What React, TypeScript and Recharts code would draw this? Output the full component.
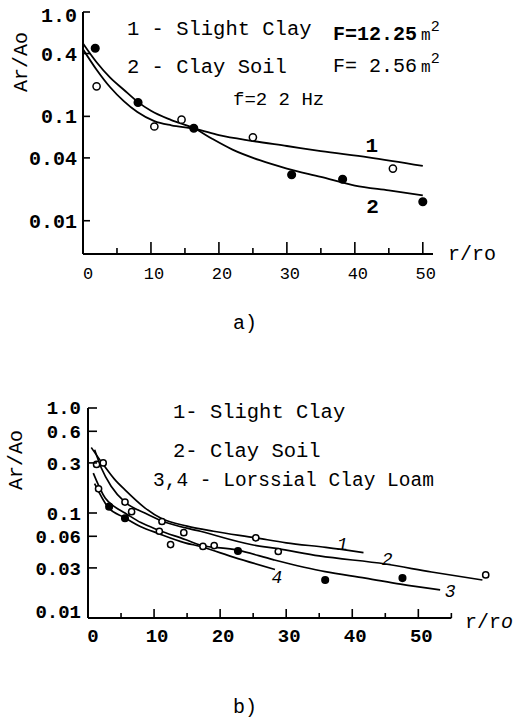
import { ComposedChart, Line, Scatter, XAxis, YAxis, ReferenceLine } from 'recharts'

const MONO = '"Liberation Mono", "DejaVu Sans Mono", monospace'

// ---------- panel a) ----------
const xTicksA = [0, 5, 10, 15, 20, 25, 30, 35, 40, 45, 50]
const yTicksA = [0.01, 0.04, 0.1, 0.4, 1]

// 1 - Slight Clay (fitted curve + open circles)
const slightClayA = [
    { x: 0, y: 0.44 }, { x: 2, y: 0.28 }, { x: 4, y: 0.19 }, { x: 6, y: 0.14 },
    { x: 8, y: 0.11 }, { x: 10.5, y: 0.09 }, { x: 13, y: 0.082 }, { x: 16.5, y: 0.076 },
    { x: 20, y: 0.066 }, { x: 25, y: 0.058 }, { x: 30, y: 0.052 }, { x: 35, y: 0.0465 },
    { x: 42, y: 0.0405 }, { x: 50, y: 0.0335 },
]
const slightClayPtsA = [
    { x: 2, y: 0.194 }, { x: 10.5, y: 0.08 }, { x: 14.5, y: 0.093 },
    { x: 25, y: 0.063 }, { x: 45.6, y: 0.0316 },
]

// 2 - Clay Soil (fitted curve + filled circles)
const claySoilA = [
    { x: 0, y: 0.5 }, { x: 2, y: 0.33 }, { x: 4, y: 0.235 }, { x: 6, y: 0.18 },
    { x: 8.1, y: 0.137 }, { x: 10, y: 0.113 }, { x: 13, y: 0.092 }, { x: 16.5, y: 0.076 },
    { x: 19, y: 0.061 }, { x: 22, y: 0.048 }, { x: 26, y: 0.038 }, { x: 30, y: 0.0316 },
    { x: 35, y: 0.0263 }, { x: 40, y: 0.0217 }, { x: 45, y: 0.0195 }, { x: 50, y: 0.0175 },
]
const claySoilPtsA = [
    { x: 1.8, y: 0.45 }, { x: 8.1, y: 0.136 }, { x: 16.3, y: 0.077 },
    { x: 30.7, y: 0.0276 }, { x: 38.2, y: 0.025 }, { x: 50, y: 0.0152 },
]

const curveLabelsA = [
    { x: 42.5, y: 0.051, text: '1' },
    { x: 42.6, y: 0.0133, text: '2' },
]

// ---------- panel b) ----------
const xTicksB = [0, 5, 10, 15, 20, 25, 30, 35, 40, 45, 50, 55]
const yTicksB = [0.01, 0.03, 0.06, 0.1, 0.3, 0.6, 1]

const curve1B = [
    { x: 0.5, y: 0.42 }, { x: 2.3, y: 0.29 }, { x: 4, y: 0.21 }, { x: 5.6, y: 0.166 },
    { x: 8.6, y: 0.112 }, { x: 11.2, y: 0.088 }, { x: 15, y: 0.075 }, { x: 19, y: 0.067 },
    { x: 25.4, y: 0.058 }, { x: 30, y: 0.052 }, { x: 36, y: 0.047 }, { x: 41.7, y: 0.042 },
]
const curve2B = [
    { x: 1, y: 0.4 }, { x: 2, y: 0.27 }, { x: 3.5, y: 0.18 }, { x: 5.6, y: 0.127 },
    { x: 8.6, y: 0.1 }, { x: 11.2, y: 0.084 }, { x: 17, y: 0.067 }, { x: 25, y: 0.0496 },
    { x: 28.5, y: 0.046 }, { x: 35, y: 0.039 }, { x: 45, y: 0.0327 }, { x: 52, y: 0.0274 },
    { x: 59.7, y: 0.023 },
]
const curve3B = [
    { x: 0.8, y: 0.24 }, { x: 2.6, y: 0.139 }, { x: 4, y: 0.115 }, { x: 5.6, y: 0.1 },
    { x: 8, y: 0.081 }, { x: 10.6, y: 0.069 }, { x: 14.7, y: 0.056 }, { x: 17, y: 0.0496 },
    { x: 22.5, y: 0.0445 }, { x: 28, y: 0.036 }, { x: 35.9, y: 0.0276 }, { x: 42, y: 0.024 },
    { x: 47.3, y: 0.021 }, { x: 53.3, y: 0.0185 },
]
const curve4B = [
    { x: 1, y: 0.19 }, { x: 3, y: 0.114 }, { x: 5.6, y: 0.09 }, { x: 8, y: 0.074 },
    { x: 10.6, y: 0.064 }, { x: 14.7, y: 0.052 }, { x: 17, y: 0.048 }, { x: 22, y: 0.038 },
    { x: 28.3, y: 0.029 },
]
const openPtsB = [
    { x: 1.3, y: 0.29 }, { x: 2.3, y: 0.3 }, { x: 1.6, y: 0.17 }, { x: 5.6, y: 0.127 },
    { x: 6.6, y: 0.103 }, { x: 11.2, y: 0.083 }, { x: 10.8, y: 0.067 }, { x: 14.5, y: 0.065 },
    { x: 12.5, y: 0.05 }, { x: 17.4, y: 0.048 }, { x: 19.1, y: 0.049 }, { x: 25.4, y: 0.058 },
    { x: 28.8, y: 0.043 }, { x: 60.2, y: 0.0257 },
]
const filledPtsB = [
    { x: 3.2, y: 0.115 }, { x: 5.6, y: 0.089 }, { x: 22.7, y: 0.0435 },
    { x: 35.9, y: 0.023 }, { x: 47.6, y: 0.024 },
]
const curveLabelsB = [
    { x: 38.5, y: 0.05, text: '1' },
    { x: 45.3, y: 0.0357, text: '2' },
    { x: 54.8, y: 0.0177, text: '3' },
    { x: 28.6, y: 0.024, text: '4' },
]

const fmtY = (v: number) => (v >= 0.1 ? v.toFixed(1) : v.toFixed(2))

const makeXTick = (major: number, minor: number, dy: number, fontSize: number, weight: string) =>
    (props: any) => {
        const { x, y, payload } = props
        const v = payload.value
        const isMajor = v % 10 === 0
        return (
            <g>
                {v !== 0 && (
                    <line x1={x} x2={x} y1={y} y2={y - (isMajor ? major : minor)} stroke="#000" strokeWidth={1.6} />
                )}
                {isMajor && (
                    <text x={x + (v === 0 ? 5 : 3)} y={y + dy} textAnchor="middle"
                        fontFamily={MONO} fontSize={fontSize} fontWeight={weight} fill="#000">
                        {v}
                    </text>
                )}
            </g>
        )
    }

// ticks point inward (right of the axis); labels sit left of it
const makeYTick = (len: number, gap: number, lowShift: number, topShift: number, fontSize: number) =>
    (props: any) => {
        const { x, y, payload } = props
        const v = payload.value
        const dy = v === 0.01 ? lowShift : v === 1 ? topShift : 0
        return (
            <g>
                <line x1={x} x2={x + len} y1={y} y2={y} stroke="#000" strokeWidth={1.6} />
                <text x={x - gap} y={y + 7 + dy} textAnchor="end" fontFamily={MONO}
                    fontSize={fontSize} fontWeight="bold" fill="#000">
                    {fmtY(v)}
                </text>
            </g>
        )
    }

const dot = (r: number, filled: boolean) => (p: any) => (
    <circle cx={p.cx} cy={p.cy} r={r} fill={filled ? '#000' : '#fff'} stroke="#000" strokeWidth={1.5} />
)

const numLabel = (size: number, italic: boolean, weight: string) => (p: any) => (
    <text x={p.cx} y={p.cy} textAnchor="middle" dominantBaseline="central" fontFamily={MONO}
        fontSize={size} fontStyle={italic ? 'italic' : 'normal'} fontWeight={weight} fill="#000">
        {p.payload.text}
    </text>
)

const axisStroke = { stroke: '#000', strokeWidth: 2 }

function PanelA() {
    return (
        <ComposedChart width={518} height={300} margin={{ top: 12, right: 85, bottom: 0, left: 0 }}>
            <XAxis dataKey="x" type="number" domain={[0, 51.5]} ticks={xTicksA} interval={0}
                allowDataOverflow axisLine={axisStroke} tickLine={false} tickSize={0} tickMargin={0}
                height={46} tick={makeXTick(12, 6, 25, 17, 'normal')} />
            <YAxis type="number" scale="log" domain={[0.0048, 1]} ticks={yTicksA} interval={0}
                allowDataOverflow axisLine={axisStroke} tickLine={false} tickSize={0} tickMargin={0}
                width={83} tick={makeYTick(7, 6, 0, 3, 20)} />
            <Line data={slightClayA} dataKey="y" type="monotone" stroke="#000" strokeWidth={1.8}
                dot={false} activeDot={false} isAnimationActive={false} />
            <Line data={claySoilA} dataKey="y" type="monotone" stroke="#000" strokeWidth={1.8}
                dot={false} activeDot={false} isAnimationActive={false} />
            <Scatter data={slightClayPtsA} dataKey="y" shape={dot(3.6, false)} isAnimationActive={false} />
            <Scatter data={claySoilPtsA} dataKey="y" shape={dot(3.8, true)} isAnimationActive={false} />
            <Scatter data={curveLabelsA} dataKey="y" shape={numLabel(21, false, 'bold')} isAnimationActive={false} />
        </ComposedChart>
    )
}

function PanelB() {
    return (
        <ComposedChart width={518} height={280} margin={{ top: 28, right: 27, bottom: 0, left: 0 }}>
            <XAxis dataKey="x" type="number" domain={[0, 61]} ticks={xTicksB} interval={0}
                allowDataOverflow axisLine={false} tickLine={false} tickSize={0} tickMargin={0}
                height={42} tick={makeXTick(9, 5, 24, 19, 'bold')} />
            <YAxis type="number" scale="log" domain={[0.01, 1]} ticks={yTicksB} interval={0}
                allowDataOverflow axisLine={axisStroke} tickLine={false} tickSize={0} tickMargin={0}
                width={88} tick={makeYTick(9, 7, -7, -1, 19)} />
            <ReferenceLine segment={[{ x: 0, y: 0.01 }, { x: 55, y: 0.01 }]} stroke="#000" strokeWidth={2} />
            <Line data={curve1B} dataKey="y" type="monotone" stroke="#000" strokeWidth={1.7}
                dot={false} activeDot={false} isAnimationActive={false} />
            <Line data={curve2B} dataKey="y" type="monotone" stroke="#000" strokeWidth={1.7}
                dot={false} activeDot={false} isAnimationActive={false} />
            <Line data={curve3B} dataKey="y" type="monotone" stroke="#000" strokeWidth={1.7}
                dot={false} activeDot={false} isAnimationActive={false} />
            <Line data={curve4B} dataKey="y" type="monotone" stroke="#000" strokeWidth={1.7}
                dot={false} activeDot={false} isAnimationActive={false} />
            <Scatter data={openPtsB} dataKey="y" shape={dot(3.1, false)} isAnimationActive={false} />
            <Scatter data={filledPtsB} dataKey="y" shape={dot(3.3, true)} isAnimationActive={false} />
            <Scatter data={curveLabelsB} dataKey="y" shape={numLabel(18, true, 'normal')} isAnimationActive={false} />
        </ComposedChart>
    )
}

export default function App() {
    const t = { fontFamily: MONO, fill: '#000' }
    return (
        <div style={{ position: 'absolute', left: 0, top: 0, width: 518, height: 721, background: '#fff' }}>
            <div style={{ position: 'absolute', left: 0, top: 0 }}><PanelA /></div>
            <div style={{ position: 'absolute', left: 0, top: 380 }}><PanelB /></div>
            <svg width={518} height={721} style={{ position: 'absolute', left: 0, top: 0, pointerEvents: 'none' }}>
                {/* panel a) annotations */}
                <text {...t} fontSize={20} transform="translate(27,62) rotate(-90)" textAnchor="middle">Ar/Ao</text>
                <text {...t} fontSize={20.5} x={127} y={35}>1 - Slight Clay</text>
                <text {...t} fontSize={20.5} x={127} y={73}>2 - Clay Soil</text>
                <text {...t} fontSize={19} x={233} y={105}>f=2 2 Hz</text>
                <text {...t} fontSize={20} x={333} y={40} fontWeight="bold">F=12.25<tspan fontSize={16} fontWeight="normal" dx={4}>m</tspan><tspan fontSize={15} fontWeight="normal" dy={-9}>2</tspan></text>
                <text {...t} fontSize={20} x={333} y={72}>F= 2.56<tspan fontSize={16} dx={4}>m</tspan><tspan fontSize={15} dy={-9}>2</tspan></text>
                <text {...t} fontSize={20} x={448} y={260}>r/ro</text>
                <text {...t} fontSize={20} x={233} y={329}>a)</text>
                {/* panel b) annotations */}
                <text {...t} fontSize={20} transform="translate(22,460) rotate(-90)" textAnchor="middle">Ar/Ao</text>
                <text {...t} fontSize={20.5} x={173} y={418}>1- Slight Clay</text>
                <text {...t} fontSize={20.5} x={173} y={457}>2- Clay Soil</text>
                <text {...t} fontSize={19.5} x={153} y={486}>3,4 - Lorssial Clay Loam</text>
                <text {...t} fontSize={20} x={465} y={628}>r/r<tspan fontStyle="italic">o</tspan></text>
                <text {...t} fontSize={20} x={233} y={713}>b)</text>
            </svg>
        </div>
    )
}
